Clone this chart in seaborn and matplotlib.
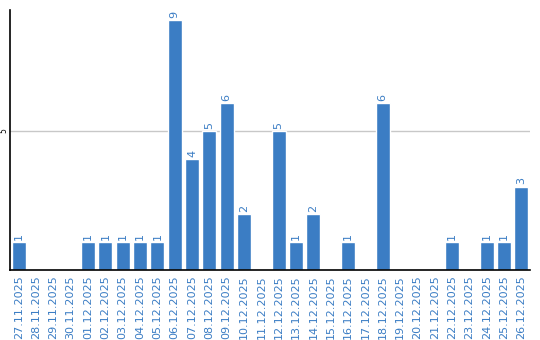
import matplotlib
matplotlib.use("Agg")
import matplotlib.pyplot as plt
import seaborn as sns
import pandas as pd

dates = ["27.11.2025", "28.11.2025", "29.11.2025", "30.11.2025", "01.12.2025",
         "02.12.2025", "03.12.2025", "04.12.2025", "05.12.2025", "06.12.2025",
         "07.12.2025", "08.12.2025", "09.12.2025", "10.12.2025", "11.12.2025",
         "12.12.2025", "13.12.2025", "14.12.2025", "15.12.2025", "16.12.2025",
         "17.12.2025", "18.12.2025", "19.12.2025", "20.12.2025", "21.12.2025",
         "22.12.2025", "23.12.2025", "24.12.2025", "25.12.2025", "26.12.2025"]
counts = [1, 0, 0, 0, 1, 1, 1, 1, 1, 9, 4, 5, 6, 2, 0, 5, 1, 2, 0, 1,
          0, 6, 0, 0, 0, 1, 0, 1, 1, 3]
yticks = [5]

df = pd.DataFrame({"date": dates, "count": counts})
blue = "#3b7dc4"

sns.set_style("white")
plt.rcParams["font.family"] = ["DejaVu Sans"]

fig = plt.figure(figsize=(5.4, 3.4), dpi=100)
ax = fig.add_axes([10 / 540, 70 / 340, 520 / 540, 260 / 340])
sns.barplot(data=df, x="date", y="count", color=blue, saturation=1, width=0.8, ax=ax)

ax.set_xlim(-0.5, len(dates) - 0.5)
ax.set_ylim(0, 9.35)
ax.set_yticks(yticks)
ax.set_yticklabels([str(t) for t in yticks], rotation=90, va="center", fontsize=5.5, color="black")
ax.yaxis.grid(True, color="#c8c8c8", linewidth=1)
ax.set_axisbelow(True)
ax.tick_params(axis="y", length=0, pad=1)
ax.tick_params(axis="x", length=0, pad=4, labelsize=8, labelcolor=blue, rotation=90)
for lbl in ax.get_xticklabels():
    lbl.set_va("top")
ax.set_xlabel("")
ax.set_ylabel("")

for s in ["top", "right"]:
    ax.spines[s].set_visible(False)
for s in ["left", "bottom"]:
    ax.spines[s].set_color("black")
    ax.spines[s].set_linewidth(1.2)

for i, v in enumerate(counts):
    if v > 0:
        ax.text(i, v + 0.08, str(v), rotation=90, ha="center", va="bottom",
                fontsize=8, color=blue)

fig.savefig("out.png", dpi=100)
